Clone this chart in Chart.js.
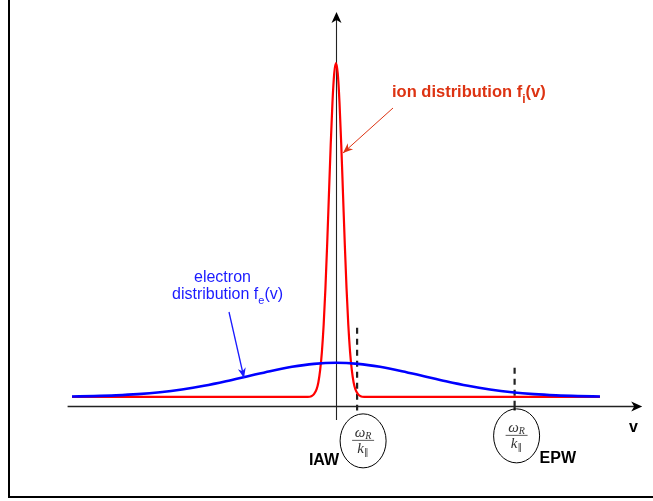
<!DOCTYPE html>
<html>
<head>
<meta charset="utf-8">
<script src="https://cdn.jsdelivr.net/npm/chart.js@4"></script>
<style>
  body{ margin:0; background:#fff; }
  canvas{ display:block; }
</style>
</head>
<body>
<canvas id="chart" width="653" height="501"></canvas>
<script>
// velocity grid (in units of electron thermal speed) and the two curves
const vIon = [-3, -0.32, -0.28, -0.25, -0.22, -0.2, -0.18, -0.16, -0.14, -0.12, -0.1, -0.08, -0.06, -0.04, -0.02, 0,
              0.02, 0.04, 0.06, 0.08, 0.1, 0.12, 0.14, 0.16, 0.18, 0.2, 0.22, 0.25, 0.28, 0.32, 3];
const fIon = [0, 0, 0.002, 0.008, 0.023, 0.044, 0.08, 0.135, 0.216, 0.325, 0.458, 0.607, 0.755, 0.882, 0.969, 1,
              0.969, 0.882, 0.755, 0.607, 0.458, 0.325, 0.216, 0.135, 0.08, 0.044, 0.023, 0.008, 0.002, 0, 0];

const vEl = [-3, -2.75, -2.5, -2.25, -2, -1.75, -1.5, -1.25, -1, -0.75, -0.5, -0.25, 0,
             0.25, 0.5, 0.75, 1, 1.25, 1.5, 1.75, 2, 2.25, 2.5, 2.75, 3];
const fEl = [0.001, 0.0023, 0.0045, 0.0081, 0.0138, 0.0221, 0.0331, 0.0467, 0.0619, 0.077, 0.09, 0.0988, 0.102,
             0.0988, 0.09, 0.077, 0.0619, 0.0467, 0.0331, 0.0221, 0.0138, 0.0081, 0.0045, 0.0023, 0.001];

// phase velocities of the two waves, and how high their dashed markers reach
const waveNames = ['IAW', 'EPW'];
const waveV     = [0.24, 2.03];
const waveTop   = [0.207, 0.087];

function pts(xs, ys){ return xs.map((v,i)=>({x:v, y:ys[i]})); }

function arrowHead(ctx, x0, y0, x1, y1, len, half, indent){
  const a = Math.atan2(y1-y0, x1-x0);
  const c = Math.cos(a), s = Math.sin(a);
  ctx.beginPath();
  ctx.moveTo(x1, y1);
  ctx.lineTo(x1 - len*c + half*s, y1 - len*s - half*c);
  ctx.lineTo(x1 - (len-indent)*c, y1 - (len-indent)*s);
  ctx.lineTo(x1 - len*c - half*s, y1 - len*s + half*c);
  ctx.closePath();
  ctx.fill();
}

function arrow(ctx, x0, y0, x1, y1, color, w){
  ctx.save();
  ctx.strokeStyle = color; ctx.fillStyle = color; ctx.lineWidth = w;
  ctx.beginPath(); ctx.moveTo(x0, y0); ctx.lineTo(x1, y1); ctx.stroke();
  arrowHead(ctx, x0, y0, x1, y1, 10, 4, 3);
  ctx.restore();
}

// text with a subscript in the middle: base + sub + tail
function subText(ctx, x, y, base, sub, tail, font, subFont, drop){
  ctx.font = font;
  ctx.fillText(base, x, y);
  x += ctx.measureText(base).width;
  ctx.font = subFont;
  ctx.fillText(sub, x, y + drop);
  x += ctx.measureText(sub).width;
  ctx.font = font;
  ctx.fillText(tail, x, y);
}

function fraction(ctx, cx, cy){
  ctx.save();
  ctx.fillStyle = '#333'; ctx.strokeStyle = '#333';
  ctx.textBaseline = 'alphabetic';
  const big = 'italic 15px "Liberation Serif"', small = 'italic 10px "Liberation Serif"';
  ctx.font = big;
  const ww = ctx.measureText('ω').width;
  ctx.font = small;
  const rw = ctx.measureText('R').width;
  let x = cx - (ww + rw)/2;
  ctx.font = big;
  ctx.fillText('ω', x, cy - 4);
  ctx.font = small;
  ctx.fillText('R', x + ww, cy - 2);
  ctx.lineWidth = 0.8;
  ctx.beginPath(); ctx.moveTo(cx - 11, cy - 0.5); ctx.lineTo(cx + 11, cy - 0.5); ctx.stroke();
  ctx.font = big;
  const kw = ctx.measureText('k').width;
  x = cx - (kw + 5)/2;
  ctx.fillText('k', x, cy + 12);
  ctx.font = '9px "DejaVu Sans"';
  ctx.fillText('∥', x + kw, cy + 14);
  ctx.restore();
}

const sketch = {
  id: 'sketch',
  beforeDatasetsDraw(chart){
    const ctx = chart.ctx, xs = chart.scales.x, ys = chart.scales.y;
    const X = v => xs.getPixelForValue(v), Y = f => ys.getPixelForValue(f);
    const area = chart.chartArea;
    ctx.save();
    // frame
    ctx.strokeStyle = '#000'; ctx.lineWidth = 2;
    ctx.beginPath(); ctx.moveTo(9, 0); ctx.lineTo(9, 497); ctx.lineTo(653, 497); ctx.stroke();
    // v axis
    const y0 = Math.round(Y(-0.027)) + 0.5;
    ctx.strokeStyle = '#222'; ctx.fillStyle = '#000'; ctx.lineWidth = 1.4;
    ctx.beginPath(); ctx.moveTo(area.left, y0); ctx.lineTo(area.right - 4, y0); ctx.stroke();
    arrowHead(ctx, area.left, y0, area.right, y0, 11, 5, 3);
    // f axis
    const x0 = Math.round(X(0)) + 0.5;
    ctx.lineWidth = 1.1;
    ctx.beginPath(); ctx.moveTo(x0, Y(-0.069)); ctx.lineTo(x0, Y(1.153) + 4); ctx.stroke();
    arrowHead(ctx, x0, Y(0), x0, Y(1.153), 11, 5, 3);
    // dashed phase-velocity markers
    ctx.lineWidth = 2.2; ctx.setLineDash([6, 5]);
    waveV.forEach((v,i)=>{
      ctx.beginPath(); ctx.moveTo(X(v), Y(waveTop[i])); ctx.lineTo(X(v), y0); ctx.stroke();
    });
    ctx.setLineDash([]);
    waveV.forEach((v,i)=>{
      ctx.beginPath(); ctx.moveTo(X(v), y0); ctx.lineTo(X(v), y0 + 4); ctx.stroke();
    });
    ctx.restore();
  },
  afterDraw(chart){
    const ctx = chart.ctx, xs = chart.scales.x, ys = chart.scales.y;
    const X = v => xs.getPixelForValue(v), Y = f => ys.getPixelForValue(f);
    const y0 = Y(-0.027);
    ctx.save();
    ctx.textBaseline = 'alphabetic';

    // ellipses with omega_R / k_par
    ctx.strokeStyle = '#000'; ctx.lineWidth = 1;
    const ell = [[X(waveV[0]) + 6, y0 + 35], [X(waveV[1]) + 2, y0 + 30]];
    ell.forEach(([cx, cy])=>{
      ctx.beginPath(); ctx.ellipse(cx, cy, 23, 27, 0, 0, Math.PI*2); ctx.stroke();
      fraction(ctx, cx, cy);
    });

    // wave names
    ctx.fillStyle = '#000';
    ctx.font = 'bold 16px "Liberation Sans"';
    ctx.textAlign = 'right';
    ctx.fillText(waveNames[0], ell[0][0] - 24, y0 + 59);
    ctx.textAlign = 'left';
    ctx.fillText(waveNames[1], ell[1][0] + 23, y0 + 57);
    ctx.fillText('v', 629, y0 + 26);

    // ion label and arrow
    ctx.fillStyle = '#dd3312';
    subText(ctx, 392, 97, 'ion distribution f', 'i', '(v)',
            'bold 16.5px "Liberation Sans"', 'bold 12px "Liberation Sans"', 6);
    arrow(ctx, 393, 108, 343, 153, '#dd3312', 1);

    // electron label and arrow
    ctx.fillStyle = '#1a1aff';
    ctx.textAlign = 'left';
    ctx.font = '16px "Liberation Sans"';
    ctx.fillText('electron', 194, 282);
    subText(ctx, 172, 299, 'distribution f', 'e', '(v)',
            '16px "Liberation Sans"', '11px "Liberation Sans"', 5);
    arrow(ctx, 229, 312, 244, 378, '#1a1aff', 1.3);
    ctx.restore();
  }
};

new Chart(document.getElementById('chart'), {
  type: 'line',
  data: {
    datasets: [
      { label: 'electron', data: pts(vEl, fEl), borderColor: '#0000ff', borderWidth: 2.6,
        pointRadius: 0, cubicInterpolationMode: 'monotone', fill: false },
      { label: 'ion', data: pts(vIon, fIon), borderColor: '#ff0000', borderWidth: 2.2,
        pointRadius: 0, cubicInterpolationMode: 'monotone', fill: false }
    ]
  },
  options: {
    responsive: false,
    animation: false,
    events: [],
    layout: { padding: { left: 67.6, right: 10.8, top: 13, bottom: 4 } },
    plugins: { legend: { display: false }, tooltip: { enabled: false } },
    scales: {
      x: { type: 'linear', min: -3.05, max: 3.48, display: false },
      y: { type: 'linear', min: -0.3, max: 1.15, display: false }
    }
  },
  plugins: [sketch]
});
</script>
</body>
</html>
